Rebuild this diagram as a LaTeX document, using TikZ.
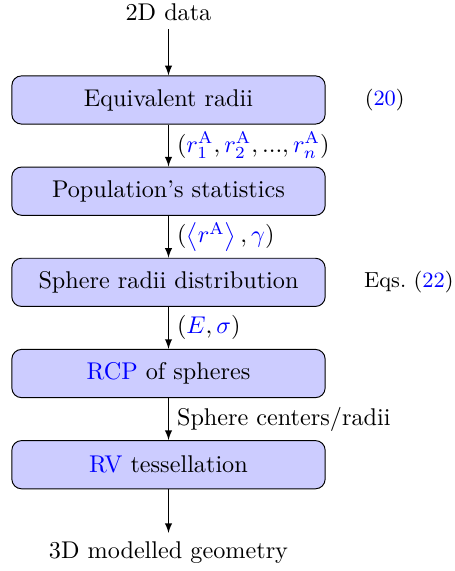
\documentclass[tikz,border=0pt]{standalone}
\usepackage{xcolor}
\usetikzlibrary{positioning,arrows}

\tikzset{
  block/.style={draw, fill=blue!20, rounded corners, minimum width=4.55cm, minimum height=0.7cm},
  line/.style={draw, -latex},
}
\newcommand{\lnk}[1]{\textcolor{blue}{#1}}

\begin{document}
\begin{tikzpicture}[node distance=0.61cm]
  \useasboundingbox (-2.447,1.452) rectangle (4.146,-6.84);
  % blocks
  \node[block] (eqr) at (0,0) {Equivalent radii};
  \node[block, below=of eqr] (pop) {Population's statistics};
  \node[block, below=of pop] (dist) {Sphere radii distribution};
  \node[block, below=of dist] (rcp) {\lnk{RCP} of spheres};
  \node[block, below=of rcp] (rv) {\lnk{RV} tessellation};
  % input / output
  \node (inp) at (0,1.278) {2D data};
  \node (out) at (0,-6.57) {3D modelled geometry};
  % references
  \node (ref1) at (3.14,0) {\small(\lnk{20})};
  \node (ref2) at (3.49,0 |- dist) {\small Eqs.~(\lnk{22})};
  % arrows
  \draw[line] (inp) -- (eqr);
  \draw[line] (eqr) -- (pop) node[midway, right] (l1)
    {$(\lnk{r_1^{\mathrm{A}}},\lnk{r_2^{\mathrm{A}}},...,\lnk{r_n^{\mathrm{A}}})$};
  \draw[line] (pop) -- (dist) node[midway, right] (l2)
    {$(\lnk{\left\langle r^{\mathrm{A}}\right\rangle}\,,\lnk{\gamma})$};
  \draw[line] (dist) -- (rcp) node[midway, right] (l3) {$(\lnk{E},\lnk{\sigma})$};
  \draw[line] (rcp) -- (rv) node[midway, right] (l4) {Sphere centers/radii};
  \draw[line] (rv) -- (out);
\end{tikzpicture}
\end{document}
